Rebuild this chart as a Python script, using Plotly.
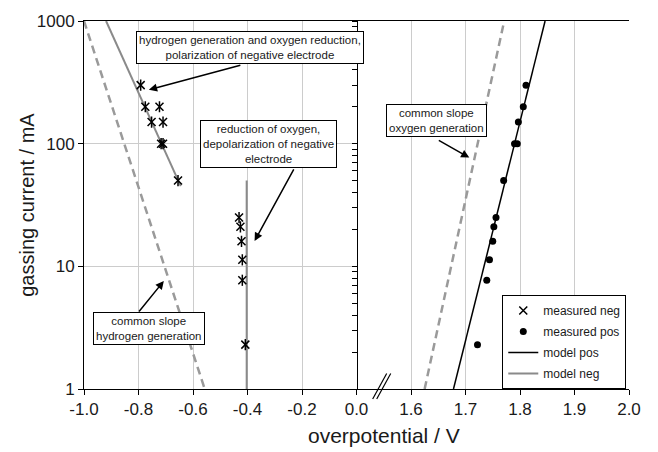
import math
import plotly.graph_objects as go

# Measured gassing current (mA) against overpotential (V)
neg_current = [300, 200, 200, 150, 150, 100, 100, 50, 25, 21, 16, 11.3, 7.7, 2.3]
neg_eta = [-0.792, -0.775, -0.723, -0.752, -0.710, -0.717, -0.710, -0.655,
           -0.431, -0.426, -0.422, -0.419, -0.419, -0.408]
pos_current = [300, 200, 150, 100, 100, 50, 25, 21, 16, 11.3, 7.7, 2.3]
pos_eta = [1.811, 1.806, 1.797, 1.790, 1.795, 1.770, 1.756, 1.752, 1.750,
           1.744, 1.739, 1.722]

# Model curves
model_pos_eta = [1.678, 1.846]
model_pos_current = [1, 1000]
model_neg_eta = [-0.919, -0.645, None, -0.403, -0.403]
model_neg_current = [1000, 45, None, 50, 1]

# Common Tafel slopes
h2_slope_eta = [-1.0, -0.557]
h2_slope_current = [1000, 1]
o2_slope_eta = [1.625, 1.771]
o2_slope_current = [1, 1000]

# Axis ticks
left_ticks = [-1.0, -0.8, -0.6, -0.4, -0.2, 0.0]
left_tick_text = ["-1.0", "-0.8", "-0.6", "-0.4", "-0.2", "0.0"]
right_ticks = [1.6, 1.7, 1.8, 1.9, 2.0]
right_tick_text = ["1.6", "1.7", "1.8", "1.9", "2.0"]
current_ticks = [1, 10, 100, 1000]
current_tick_text = ["1", "10", "100", "1000"]
center_ticks = [m * 10 ** e for e in range(3) for m in range(1, 10)] + [1000]

FONT = "Liberation Sans, Arial, sans-serif"
TXT = "#1a1a1a"
GRID = "#cccccc"

fig = go.Figure()

fig.add_trace(go.Scatter(x=h2_slope_eta, y=h2_slope_current, mode="lines",
                         line=dict(color="#9a9a9a", width=2.5, dash="8px,5px"),
                         showlegend=False, xaxis="x", yaxis="y"))
fig.add_trace(go.Scatter(x=o2_slope_eta, y=o2_slope_current, mode="lines",
                         line=dict(color="#9a9a9a", width=2.5, dash="8px,5px"),
                         showlegend=False, xaxis="x2", yaxis="y2"))
fig.add_trace(go.Scatter(x=model_neg_eta, y=model_neg_current, mode="lines",
                         name="model neg", legendgroup="modn", legendrank=4,
                         line=dict(color="#8a8a8a", width=2), connectgaps=False,
                         xaxis="x", yaxis="y"))
fig.add_trace(go.Scatter(x=model_pos_eta, y=model_pos_current, mode="lines",
                         name="model pos", legendgroup="modp", legendrank=3,
                         line=dict(color="black", width=1.5),
                         xaxis="x2", yaxis="y2"))
fig.add_trace(go.Scatter(x=neg_eta, y=neg_current, mode="markers",
                         name="measured neg", legendgroup="mn", legendrank=1,
                         marker=dict(symbol="x-thin-open", size=8, color="black",
                                     line=dict(color="black", width=1.5)),
                         xaxis="x", yaxis="y"))
fig.add_trace(go.Scatter(x=neg_eta, y=neg_current, mode="markers",
                         legendgroup="mn", showlegend=False,
                         marker=dict(symbol="line-ns-open", size=8, color="black",
                                     line=dict(color="black", width=1.5)),
                         xaxis="x", yaxis="y"))
fig.add_trace(go.Scatter(x=pos_eta, y=pos_current, mode="markers",
                         name="measured pos", legendgroup="mp", legendrank=2,
                         marker=dict(symbol="circle", size=7, color="black"),
                         xaxis="x2", yaxis="y2"))

axis_common = dict(showline=True, linecolor="black", linewidth=1, mirror=True,
                   ticks="outside", ticklen=5, tickcolor="black",
                   showgrid=True, gridcolor=GRID, gridwidth=1, zeroline=False,
                   tickfont=dict(size=17, color=TXT, family=FONT))

fig.update_layout(
    width=658, height=452,
    margin=dict(l=84, r=29, t=14, b=63),
    paper_bgcolor="white", plot_bgcolor="white",
    font=dict(family=FONT, color=TXT),
    xaxis=dict(domain=[0, 0.5], range=[-1.0, 0.0], anchor="y",
               tickvals=left_ticks, ticktext=left_tick_text, **axis_common),
    xaxis2=dict(domain=[0.5, 1], range=[1.5, 2.0], anchor="y",
                tickvals=right_ticks, ticktext=right_tick_text, **axis_common),
    yaxis=dict(type="log", range=[0, 3], tickvals=current_ticks,
               ticktext=current_tick_text, showline=True, linecolor="black",
               ticks="outside", ticklen=5, tickcolor="black",
               showgrid=True, gridcolor=GRID, zeroline=False,
               tickfont=dict(size=17, color=TXT, family=FONT)),
    yaxis2=dict(type="log", range=[0, 3], overlaying="y", anchor="free",
                position=0.5, side="left", tickvals=center_ticks,
                showticklabels=False, ticks="outside", ticklen=5,
                tickcolor="black", showline=True, linecolor="black",
                showgrid=False, zeroline=False),
    legend=dict(x=0.995, y=0, xanchor="right", yanchor="bottom",
                bgcolor="white", bordercolor="black", borderwidth=1,
                traceorder="grouped", tracegroupgap=2, itemwidth=30,
                font=dict(size=12, color=TXT, family=FONT)),
)

box = dict(showarrow=False, bordercolor="black", borderwidth=1,
           borderpad=2, bgcolor="white",
           font=dict(size=11.5, color=TXT, family=FONT))
arrow = dict(text="", showarrow=True, arrowhead=2, arrowsize=1.1,
             arrowwidth=1.5, arrowcolor="black")

# Callouts: (axis, head x, head current, tail offset px, box offset px, text)
callouts = [
    ("x", -0.762, 275, (93, -25), (101, -42),
     "hydrogen generation and oxygen reduction,<br>polarization of negative electrode"),
    ("x", -0.374, 16.1, (40, -73), (14, -97),
     "reduction of oxygen,<br>depolarization of negative<br>electrode"),
    ("x", -0.707, 7.6, (-26, 32), (-15, 48),
     "common slope<br>hydrogen generation"),
    ("x2", 1.707, 77, (-32, -18), (-33, -37),
     "common slope<br>oxygen generation"),
]
for xr, hx, hy, tail, off, label in callouts:
    fig.add_annotation(x=hx, y=math.log10(hy), xref=xr, yref="y",
                       ax=tail[0], ay=tail[1], **arrow)
for xr, hx, hy, tail, off, label in callouts:
    fig.add_annotation(x=hx, y=math.log10(hy), xref=xr, yref="y",
                       xshift=off[0], yshift=-off[1], text=label, **box)

# Axis titles
fig.add_annotation(x=0.551, y=-0.125, xref="paper", yref="paper",
                   text="overpotential / V", showarrow=False,
                   xanchor="center", yanchor="middle",
                   font=dict(size=21, color=TXT, family=FONT))
fig.add_annotation(x=-0.105, y=0.5, xref="paper", yref="paper",
                   text="gassing current / mA", showarrow=False, textangle=-90,
                   xanchor="center", yanchor="middle",
                   font=dict(size=20, color=TXT, family=FONT))

# Axis break marks between the two voltage ranges
for dx in (0.0, 0.0074):
    fig.add_shape(type="line", xref="paper", yref="paper",
                  x0=0.5297 + dx, y0=-0.027, x1=0.5554 + dx, y1=0.042,
                  line=dict(color="black", width=1.2))

fig.write_html("out.html")
